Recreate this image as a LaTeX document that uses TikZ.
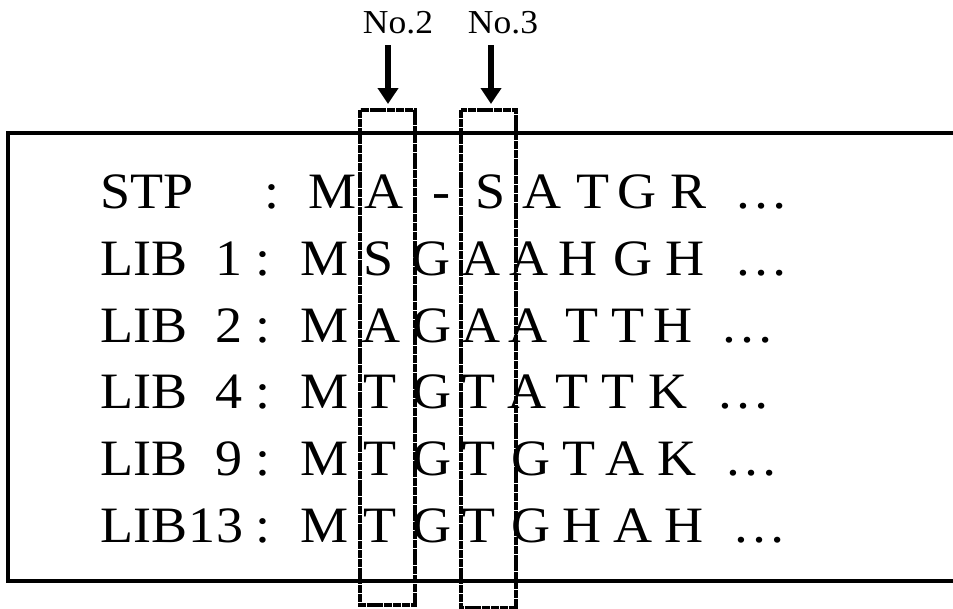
\documentclass[tikz,border=0pt]{standalone}
\usepackage{fontspec}
\setmainfont{Liberation Serif}
\newfontfamily\widefont[FakeStretch=1.06]{Liberation Serif}
\usetikzlibrary{arrows.meta}
\tikzset{
  ch/.style={anchor=base,inner sep=0pt,font=\widefont\fontsize{51}{51}\selectfont},
  lead/.style={anchor=base west,inner sep=0pt,font=\widefont\fontsize{51}{51}\selectfont},
  lbl/.style={anchor=base,inner sep=0pt,font=\widefont\fontsize{33.5}{34}\selectfont},
  frame/.style={line width=4pt,line cap=rect},
  colbox/.style={line width=4pt,dash pattern=on 8pt off 0.8pt},
  pointer/.style={line width=6.5pt,-{Triangle[length=16pt,width=20pt]}}
}
\begin{document}
\begin{tikzpicture}[x=1pt,y=-1pt]
\useasboundingbox (0,0) rectangle (953,608);
% frame open at the right
\draw[frame] (953,133) -- (8,133) -- (8,581) -- (953,581);
% row 1
\node[lead] (r1-name) at (100,208) {STP};
\foreach \x/\t [count=\i] in {272/:,333/M,384/A,441/-,491/S,542/A,593/T,637/G,689/R,762/…}
  \node[ch] (r1-\i) at (\x,208) {\t};
% row 2
\node[lead] (r2-name) at (100,275) {LIB};
\foreach \x/\t [count=\i] in {229/1,263/:,325/M,379/S,431/G,481/A,529/A,578/H,633/G,685/H,762/…}
  \node[ch] (r2-\i) at (\x,275) {\t};
% row 3
\node[lead] (r3-name) at (100,342) {LIB};
\foreach \x/\t [count=\i] in {229/2,263/:,325/M,381/A,432/G,481/A,528/A,582/T,628/T,673/H,748/…}
  \node[ch] (r3-\i) at (\x,342) {\t};
% row 4
\node[lead] (r4-name) at (100,408) {LIB};
\foreach \x/\t [count=\i] in {229/4,263/:,325/M,380/T,432/G,479/T,527/A,572/T,618/T,668/K,744/…}
  \node[ch] (r4-\i) at (\x,408) {\t};
% row 5
\node[lead] (r5-name) at (100,475) {LIB};
\foreach \x/\t [count=\i] in {229/9,263/:,325/M,380/T,432/G,479/T,531/G,579/T,625/A,677/K,752/…}
  \node[ch] (r5-\i) at (\x,475) {\t};
% row 6
\node[lead] (r6-name) at (100,542) {LIB};
\foreach \x/\t [count=\i] in {216/13,263/:,325/M,380/T,432/G,479/T,531/G,582/H,633/A,684/H,760/…}
  \node[ch] (r6-\i) at (\x,542) {\t};
% highlighted columns
\draw[colbox] (360,110) rectangle (415,605);
\draw[colbox] (461,110) rectangle (516,608);
% labels and pointers
\node[lbl] (no2) at (398,33) {No.2};
\node[lbl] (no3) at (503,33) {No.3};
\coordinate (p2s) at (388,45);
\coordinate (p2e) at (388,104);
\coordinate (p3s) at (491,45);
\coordinate (p3e) at (491,104);
\draw[pointer] (p2s) -- (p2e);
\draw[pointer] (p3s) -- (p3e);
\end{tikzpicture}
\end{document}
